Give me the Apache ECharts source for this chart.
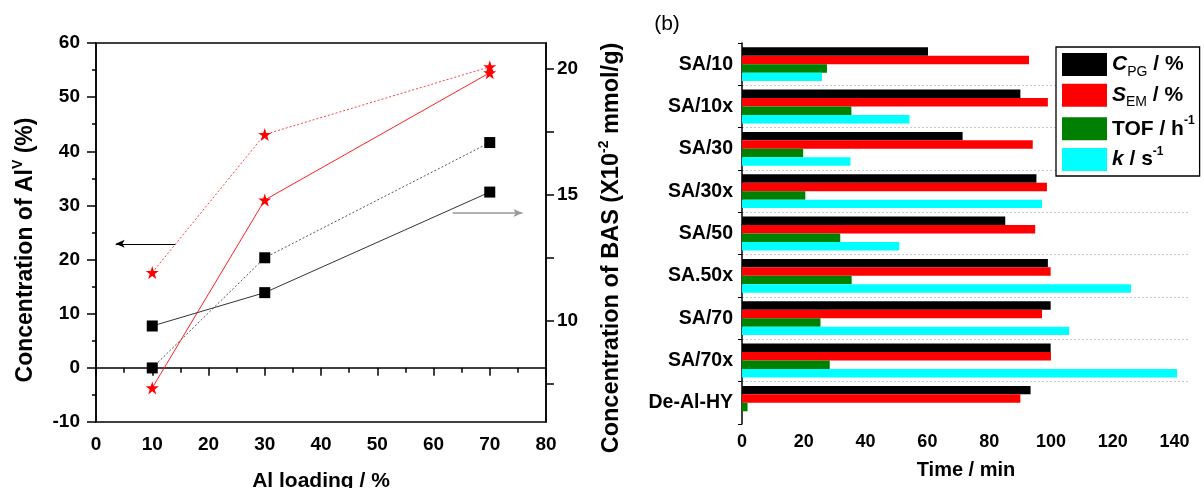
<!DOCTYPE html>
<html>
<head>
<meta charset="utf-8">
<script src="https://cdn.jsdelivr.net/npm/echarts@6/dist/echarts.min.js"></script>
<style>
  html, body { margin: 0; padding: 0; background: #fff; }
  #chart { width: 1204px; height: 488px; }
</style>
</head>
<body>
<div id="chart"></div>
<script>
// ---------- Panel (a) data ----------
const alLoading = [10, 30, 70];
const alvDotted = [17.6, 43.1, 55.6];   // Concentration of Al(V) (%), dotted
const alvSolid = [-3.7, 31.0, 54.5];    // Concentration of Al(V) (%), solid
const basDotted = [8.14, 12.5, 17.06];  // BAS (x10^-2 mmol/g), dotted
const basSolid = [9.8, 11.12, 15.1];    // BAS (x10^-2 mmol/g), solid
const basTickLabels = [10, 15, 20];
const basTickMarks = [7.5, 10, 12.5, 15, 17.5, 20];
const arrowLeft = [[14.1, 22.9], [3.5, 22.9]];      // points to left axis
const arrowRight = [[63.4, 14.27], [75.8, 14.27]];  // points to right axis

// ---------- Panel (b) data ----------
const categories = ['SA/10', 'SA/10x', 'SA/30', 'SA/30x', 'SA/50', 'SA.50x', 'SA/70', 'SA/70x', 'De-Al-HY'];
const cpg  = [60.2, 90.1, 71.4, 95.3, 85.2, 99.0, 99.9, 99.9, 93.4];
const sem  = [92.9, 99.0, 94.1, 98.7, 94.9, 99.9, 97.1, 100, 90.1];
const tof  = [27.5, 35.4, 19.8, 20.5, 31.8, 35.5, 25.4, 28.4, 1.8];
const kval = [25.9, 54.2, 35.1, 97.1, 50.9, 125.9, 105.9, 140.8, 0];
const timeTickLabels = [0, 20, 40, 60, 80, 100, 120, 140];

const FONT = "'Liberation Sans', Arial, sans-serif";
const STAR = 'path://M50,0 L61.8,35.3 L98.9,35.3 L68.9,57.1 L80.3,92.7 L50,70.6 L19.7,92.7 L31.1,57.1 L1.1,35.3 L38.2,35.3 Z';

const lbl = (size, extra) => Object.assign({ color: '#000', fontFamily: FONT, fontWeight: 'bold', fontSize: size }, extra || {});

const chart = echarts.init(document.getElementById('chart'), null, { renderer: 'canvas' });

const legendNames = {
  CPG: '{i|C}{sub|PG}{b| / %}',
  SEM: '{i|S}{sub|EM}{b| / %}',
  TOF: '{b|TOF / h}{sup|-1}',
  K:   '{i|k}{b| / s}{sup|-1}'
};

const option = {
  animation: false,
  backgroundColor: '#fff',
  grid: [
    { left: 96, top: 43, width: 450, height: 379, outerBoundsMode: 'none', containLabel: false, show: true, borderColor: '#000', borderWidth: 1.5, backgroundColor: 'transparent' },
    { left: 742, top: 43, width: 448, height: 381, outerBoundsMode: 'none', containLabel: false }
  ],
  legend: {
    orient: 'vertical',
    left: 1056, top: 47,
    itemWidth: 45, itemHeight: 23, itemGap: 5,
    padding: [6, 5, 5, 6],
    borderColor: '#000', borderWidth: 1.3,
    backgroundColor: '#fff',
    selectedMode: false,
    icon: 'rect',
    data: ['CPG', 'SEM', 'TOF', 'K'],
    formatter: n => legendNames[n],
    textStyle: {
      color: '#000', fontFamily: FONT,
      rich: {
        i: { fontSize: 21, fontWeight: 'bold', fontStyle: 'italic', lineHeight: 28.5, color: '#000', fontFamily: FONT },
        b: { fontSize: 21, fontWeight: 'bold', lineHeight: 28.5, color: '#000', fontFamily: FONT },
        sub: { fontSize: 14, verticalAlign: 'bottom', color: '#000', fontFamily: FONT },
        sup: { fontSize: 12, fontWeight: 'bold', verticalAlign: 'top', color: '#000', fontFamily: FONT }
      }
    }
  },
  xAxis: [
    {
      gridIndex: 0, type: 'value', min: 0, max: 80, interval: 10,
      axisLine: { lineStyle: { color: '#000', width: 1.5 } },
      axisTick: { inside: false, length: 8, lineStyle: { color: '#000', width: 1.5 } },
      minorTick: { show: true, splitNumber: 2, length: 5, lineStyle: { color: '#000', width: 1.5 } },
      splitLine: { show: false },
      axisLabel: lbl(19, { margin: 13 }),
      name: 'Al loading / %', nameLocation: 'middle', nameGap: 49,
      nameTextStyle: lbl(21)
    },
    {
      gridIndex: 1, type: 'value', min: 0, max: 145, interval: 5,
      axisLine: { lineStyle: { color: '#000', width: 1.5 } },
      axisTick: { inside: true, length: 4, lineStyle: { color: '#000', width: 1 } },
      splitLine: { show: false },
      axisLabel: lbl(18, { margin: 9, formatter: v => timeTickLabels.includes(v) ? String(v) : '' }),
      name: 'Time / min', nameLocation: 'middle', nameGap: 36,
      nameTextStyle: lbl(20)
    }
  ],
  yAxis: [
    {
      gridIndex: 0, type: 'value', min: -10, max: 60, interval: 10, position: 'left',
      axisLine: { show: true, lineStyle: { color: '#000', width: 1.5 } },
      axisTick: { show: true, inside: false, length: 9, lineStyle: { color: '#000', width: 1.5 } },
      minorTick: { show: true, splitNumber: 2, length: 4, lineStyle: { color: '#000', width: 1.5 } },
      splitLine: { show: false },
      axisLabel: lbl(19, { margin: 16 })
    },
    {
      gridIndex: 0, type: 'value', min: 6, max: 21, position: 'right',
      axisLine: { show: true, lineStyle: { color: '#000', width: 1.5 } },
      axisTick: { show: true, inside: false, length: 8, customValues: basTickMarks, lineStyle: { color: '#000', width: 1.5 } },
      splitLine: { show: false },
      axisLabel: lbl(19, { margin: 11, customValues: basTickLabels })
    },
    {
      gridIndex: 1, type: 'category', data: categories, inverse: true,
      axisLine: { show: true, lineStyle: { color: '#000', width: 1.5 } },
      axisTick: { show: true, inside: false, length: 4, lineStyle: { color: '#000', width: 1 } },
      splitLine: { show: true, showMinLine: false, showMaxLine: false, lineStyle: { color: '#c8c8c8', type: [2, 2], width: 1 } },
      axisLabel: lbl(19.5, { margin: 9 })
    }
  ],
  graphic: [
    {
      type: 'text', x: 26, y: 250, rotation: Math.PI / 2,
      style: {
        text: '{t|Concentration of Al}{s|V}{t| (%)}',
        align: 'center', verticalAlign: 'middle', fill: '#000',
        fontFamily: FONT, fontSize: 23, fontWeight: 'bold',
        rich: {
          t: { fontSize: 23, fontWeight: 'bold', lineHeight: 29, fill: '#000', fontFamily: FONT },
          s: { fontSize: 14, fontWeight: 'bold', verticalAlign: 'top', fill: '#000', fontFamily: FONT }
        }
      }
    },
    {
      type: 'text', x: 612, y: 248, rotation: Math.PI / 2,
      style: {
        text: '{t|Concentration of BAS (X10}{s|-2}{t| mmol/g)}',
        align: 'center', verticalAlign: 'middle', fill: '#000',
        fontFamily: FONT, fontSize: 23.5, fontWeight: 'bold',
        rich: {
          t: { fontSize: 23.5, fontWeight: 'bold', lineHeight: 29, fill: '#000', fontFamily: FONT },
          s: { fontSize: 14, fontWeight: 'bold', verticalAlign: 'top', fill: '#000', fontFamily: FONT }
        }
      }
    },
    {
      type: 'text', x: 667, y: 24,
      style: { text: '(b)', align: 'center', verticalAlign: 'middle', fill: '#000', fontFamily: FONT, fontSize: 21 }
    }
  ],
  series: [
    {
      name: 'AlV dotted', type: 'line', xAxisIndex: 0, yAxisIndex: 0,
      data: alLoading.map((x, i) => [x, alvDotted[i]]),
      symbol: STAR, symbolSize: 13, itemStyle: { color: '#ff0000' },
      lineStyle: { color: '#ff4040', width: 1, type: [2, 2] },
      markLine: {
        silent: true, animation: false, label: { show: false },
        symbol: ['none', 'arrow'], symbolSize: [6, 9],
        lineStyle: { color: '#000', width: 1, type: 'solid' },
        data: [[{ coord: arrowLeft[0] }, { coord: arrowLeft[1] }]]
      }
    },
    {
      name: 'AlV solid', type: 'line', xAxisIndex: 0, yAxisIndex: 0,
      data: alLoading.map((x, i) => [x, alvSolid[i]]),
      symbol: STAR, symbolSize: 13, itemStyle: { color: '#ff0000' },
      lineStyle: { color: '#ff2020', width: 1, type: 'solid' }
    },
    {
      name: 'BAS dotted', type: 'line', xAxisIndex: 0, yAxisIndex: 1,
      data: alLoading.map((x, i) => [x, basDotted[i]]),
      symbol: 'rect', symbolSize: 11, itemStyle: { color: '#000' },
      lineStyle: { color: '#555', width: 1, type: [2, 2] }
    },
    {
      name: 'BAS solid', type: 'line', xAxisIndex: 0, yAxisIndex: 1,
      data: alLoading.map((x, i) => [x, basSolid[i]]),
      symbol: 'rect', symbolSize: 11, itemStyle: { color: '#000' },
      lineStyle: { color: '#333', width: 1, type: 'solid' },
      markLine: {
        silent: true, animation: false, label: { show: false },
        symbol: ['none', 'arrow'], symbolSize: [6, 9],
        lineStyle: { color: '#999', width: 1.5, type: 'solid' },
        data: [[{ coord: arrowRight[0] }, { coord: arrowRight[1] }]]
      }
    },
    { name: 'CPG', type: 'bar', xAxisIndex: 1, yAxisIndex: 2, data: cpg, itemStyle: { color: '#000000' }, barGap: '0%', barCategoryGap: '20%' },
    { name: 'SEM', type: 'bar', xAxisIndex: 1, yAxisIndex: 2, data: sem, itemStyle: { color: '#ff0000' }, barGap: '0%', barCategoryGap: '20%' },
    { name: 'TOF', type: 'bar', xAxisIndex: 1, yAxisIndex: 2, data: tof, itemStyle: { color: '#008000' }, barGap: '0%', barCategoryGap: '20%' },
    { name: 'K',   type: 'bar', xAxisIndex: 1, yAxisIndex: 2, data: kval, itemStyle: { color: '#00ffff' }, barGap: '0%', barCategoryGap: '20%' }
  ]
};

chart.setOption(option);
</script>
</body>
</html>
